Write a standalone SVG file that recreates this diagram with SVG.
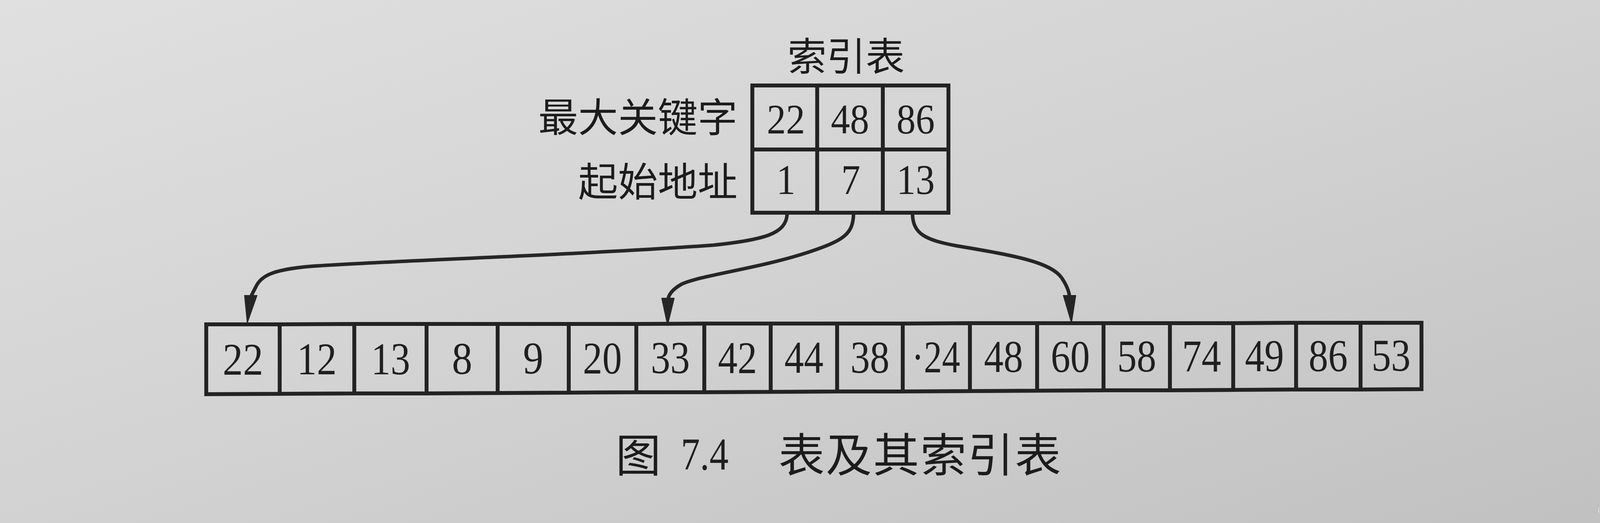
<svg xmlns="http://www.w3.org/2000/svg" width="4256" height="1340" viewBox="0 0 4256 1340">
<defs>
<linearGradient id="paper" x1="0" y1="0" x2="1" y2="1">
<stop offset="0" stop-color="#e0e0e0"/>
<stop offset="0.5" stop-color="#d2d2d2"/>
<stop offset="1" stop-color="#c0c0c0"/>
</linearGradient>
</defs>
<style>
.cell{fill:none;stroke:#232323;stroke-width:10;stroke-linejoin:miter}
.cjk{font-family:"Noto Sans CJK SC","Noto Sans",sans-serif;font-weight:400;fill:#1c1c1c}
.num{font-family:"Liberation Serif","Times New Roman",serif;fill:#1f1f1f;text-anchor:middle}
.idx{font-size:107px}
.arr{font-size:116px}
.conn{fill:none;stroke:#262626;stroke-width:9;stroke-linecap:round}
.head{fill:#262626;stroke:#262626;stroke-width:2;stroke-linejoin:round}
.wm{font-family:"Noto Sans CJK SC","Noto Sans",sans-serif;font-size:19px;fill:#f0f0f0;stroke:#8a8a8a;stroke-width:0.8;paint-order:stroke}
</style>
<rect x="0" y="0" width="4256" height="1340" fill="url(#paper)"/>

<g id="index-title">
<text class="cjk" x="2166" y="181" font-size="100" text-anchor="middle">索引表</text>
</g>

<g id="row-labels">
<text class="cjk" x="1888" y="338" font-size="102" text-anchor="end">最大关键字</text>
<text class="cjk" x="1888" y="503" font-size="102" text-anchor="end">起始地址</text>
</g>

<g id="index-table">
<g id="idx-cell-1"><rect class="cell" x="1926" y="219" width="166" height="164"/><text class="num idx" x="2012" y="342" textLength="98" lengthAdjust="spacingAndGlyphs">22</text></g>
<g id="idx-cell-2"><rect class="cell" x="2092" y="219" width="168" height="164"/><text class="num idx" x="2176" y="342" textLength="98" lengthAdjust="spacingAndGlyphs">48</text></g>
<g id="idx-cell-3"><rect class="cell" x="2260" y="219" width="168" height="164"/><text class="num idx" x="2344" y="342" textLength="98" lengthAdjust="spacingAndGlyphs">86</text></g>
<g id="idx-cell-4"><rect class="cell" x="1926" y="383" width="166" height="162"/><text class="num idx" x="2012" y="497" textLength="49" lengthAdjust="spacingAndGlyphs">1</text></g>
<g id="idx-cell-5"><rect class="cell" x="2092" y="383" width="168" height="162"/><text class="num idx" x="2178" y="497" textLength="49" lengthAdjust="spacingAndGlyphs">7</text></g>
<g id="idx-cell-6"><rect class="cell" x="2260" y="383" width="168" height="162"/><text class="num idx" x="2344" y="497" textLength="98" lengthAdjust="spacingAndGlyphs">13</text></g>
</g>

<g id="array">
<g id="a1"><polygon class="cell" points="528,831 716,831 716,1009 528,1010"/><text class="num arr" x="622" y="960" textLength="104" lengthAdjust="spacingAndGlyphs">22</text></g>
<g id="a2"><polygon class="cell" points="716,831 907,830 907,1008 716,1009"/><text class="num arr" x="811" y="959" textLength="102" lengthAdjust="spacingAndGlyphs">12</text></g>
<g id="a3"><polygon class="cell" points="907,830 1092,830 1092,1008 907,1008"/><text class="num arr" x="1000" y="959" textLength="100" lengthAdjust="spacingAndGlyphs">13</text></g>
<g id="a4"><polygon class="cell" points="1092,830 1274,830 1274,1007 1092,1008"/><text class="num arr" x="1183" y="958" textLength="52" lengthAdjust="spacingAndGlyphs">8</text></g>
<g id="a5"><polygon class="cell" points="1274,830 1456,830 1456,1006 1274,1007"/><text class="num arr" x="1365" y="957" textLength="52" lengthAdjust="spacingAndGlyphs">9</text></g>
<g id="a6"><polygon class="cell" points="1456,830 1629,830 1629,1005 1456,1006"/><text class="num arr" x="1542" y="957" textLength="100" lengthAdjust="spacingAndGlyphs">20</text></g>
<g id="a7"><polygon class="cell" points="1629,830 1803,829 1803,1005 1629,1005"/><text class="num arr" x="1716" y="956" textLength="100" lengthAdjust="spacingAndGlyphs">33</text></g>
<g id="a8"><polygon class="cell" points="1803,829 1973,829 1973,1004 1803,1005"/><text class="num arr" x="1888" y="956" textLength="100" lengthAdjust="spacingAndGlyphs">42</text></g>
<g id="a9"><polygon class="cell" points="1973,829 2143,829 2143,1003 1973,1004"/><text class="num arr" x="2058" y="955" textLength="100" lengthAdjust="spacingAndGlyphs">44</text></g>
<g id="a10"><polygon class="cell" points="2143,829 2311,829 2311,1003 2143,1003"/><text class="num arr" x="2227" y="955" textLength="100" lengthAdjust="spacingAndGlyphs">38</text></g>
<g id="a11"><polygon class="cell" points="2311,829 2483,828 2483,1002 2311,1003"/><text class="num arr" x="2396" y="954" textLength="124" lengthAdjust="spacingAndGlyphs">·24</text></g>
<g id="a12"><polygon class="cell" points="2483,828 2655,828 2655,1001 2483,1002"/><text class="num arr" x="2569" y="953" textLength="100" lengthAdjust="spacingAndGlyphs">48</text></g>
<g id="a13"><polygon class="cell" points="2655,828 2825,828 2825,1000 2655,1001"/><text class="num arr" x="2740" y="953" textLength="100" lengthAdjust="spacingAndGlyphs">60</text></g>
<g id="a14"><polygon class="cell" points="2825,828 2995,828 2995,1000 2825,1000"/><text class="num arr" x="2910" y="952" textLength="100" lengthAdjust="spacingAndGlyphs">58</text></g>
<g id="a15"><polygon class="cell" points="2995,828 3157,828 3157,999 2995,1000"/><text class="num arr" x="3076" y="952" textLength="100" lengthAdjust="spacingAndGlyphs">74</text></g>
<g id="a16"><polygon class="cell" points="3157,828 3318,827 3318,998 3157,999"/><text class="num arr" x="3237" y="951" textLength="100" lengthAdjust="spacingAndGlyphs">49</text></g>
<g id="a17"><polygon class="cell" points="3318,827 3483,827 3483,998 3318,998"/><text class="num arr" x="3400" y="951" textLength="100" lengthAdjust="spacingAndGlyphs">86</text></g>
<g id="a18"><polygon class="cell" points="3483,827 3639,827 3639,997 3483,998"/><text class="num arr" x="3561" y="950" textLength="100" lengthAdjust="spacingAndGlyphs">53</text></g>
</g>

<g id="connectors">
<path class="conn" d="M2015,550 C2011,598 1960,614 1827,628 C1500,652 1000,668 800,682 C700,690 668,706 655,735 C648,748 644,755 642,762"/>
<polygon class="head" points="626,757 658,757 633,828"/>
<path class="conn" d="M2185,550 C2183,600 2160,616 2070,646 C1950,686 1790,706 1745,728 C1722,741 1712,755 1710,767"/>
<polygon class="head" points="1694,764 1726,764 1709,834"/>
<path class="conn" d="M2336,550 C2338,600 2370,615 2450,630 C2600,655 2690,672 2718,712 C2732,733 2737,748 2738,760"/>
<polygon class="head" points="2722,757 2754,757 2743,828"/>
</g>

<g id="caption">
<text class="cjk" x="1576" y="1209" font-size="116">图</text>
<text x="1743" y="1203" font-family="Liberation Serif, serif" font-size="116" fill="#1f1f1f" textLength="122" lengthAdjust="spacingAndGlyphs">7.4</text>
<text class="cjk" x="1993" y="1209" font-size="118" letter-spacing="3">表及其索引表</text>
</g>

<g id="watermark">
<text class="wm" x="4090" y="1314" textLength="142" lengthAdjust="spacingAndGlyphs">CSDN @无咎.lsy</text>
</g>
</svg>
